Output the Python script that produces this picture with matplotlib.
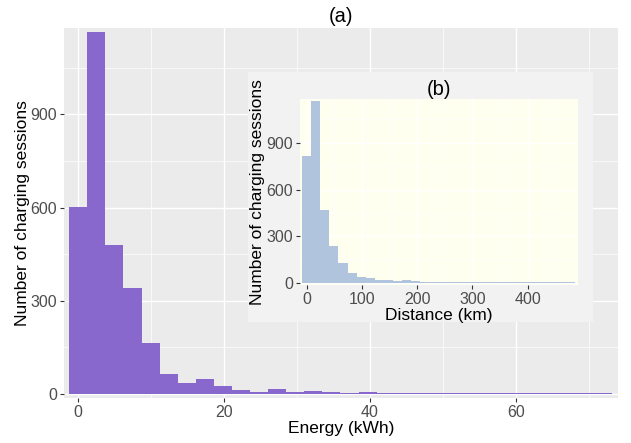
import numpy as np
import matplotlib
matplotlib.use("Agg")
import matplotlib.pyplot as plt
from matplotlib.ticker import MultipleLocator

plt.rcParams['font.family'] = ['Liberation Sans', 'DejaVu Sans']

# (a) energy histogram: 30 bins starting at 0 kWh
energy_binwidth = 2.48
energy_counts = [603, 1166, 481, 340, 164, 63, 37, 50, 27, 14,
                 7, 17, 8, 11, 8, 4, 8, 4, 4, 5,
                 3, 3, 3, 3, 3, 3, 3, 3, 3, 3]
energy_xticks = [0, 20, 40, 60]

# (b) distance histogram: 30 bins starting at 0 km
dist_binwidth = 16.45
dist_counts = [814, 1168, 467, 236, 126, 62, 37, 30, 18, 17,
               10, 17, 11, 6, 5, 5, 5, 5, 5, 5,
               5, 5, 5, 5, 5, 5, 5, 5, 5, 5]
dist_xticks = [0, 100, 200, 300, 400]

count_yticks = [0, 300, 600, 900]

W, H = 631, 443
fig = plt.figure(figsize=(W / 100, H / 100), dpi=100)


def px_rect(x0, y0, x1, y1):
    # pixel box (top-left origin) -> figure fraction rect
    return [x0 / W, 1 - y1 / H, (x1 - x0) / W, (y1 - y0) / H]


def style_axes(ax, bg, xmajor, xminor, ymajor, yminor, ticks_fs):
    ax.set_facecolor(bg)
    for s in ax.spines.values():
        s.set_visible(False)
    ax.xaxis.set_major_locator(MultipleLocator(xmajor))
    ax.xaxis.set_minor_locator(MultipleLocator(xminor))
    ax.yaxis.set_major_locator(MultipleLocator(ymajor))
    ax.yaxis.set_minor_locator(MultipleLocator(yminor))
    ax.grid(which='major', color='white', linewidth=1.0)
    ax.grid(which='minor', color='white', linewidth=0.5)
    ax.set_axisbelow(True)
    ax.tick_params(which='major', length=3, width=0.8, color='#333333',
                   labelcolor='#4D4D4D', labelsize=ticks_fs, pad=2)
    ax.tick_params(which='minor', length=0)


# main panel
ax = fig.add_axes(px_rect(64, 28, 618.3, 397.7))
style_axes(ax, '#EBEBEB', 20, 10, 300, 150, 11.5)
centers = np.arange(len(energy_counts)) * energy_binwidth
ax.bar(centers, energy_counts, width=energy_binwidth, color='#8968CD',
       linewidth=0, zorder=2)
ax.set_xlim(-1.96, 74.06)
ax.set_ylim(-11.7, 1178)
ax.set_xticks(energy_xticks)
ax.set_yticks(count_yticks)
ax.set_xlabel('Energy (kWh)', fontsize=12.5, labelpad=1)
ax.set_ylabel('Number of charging sessions', fontsize=12.5, labelpad=0)
ax.set_title('(a)', fontsize=14.5, pad=4)

# inset background
bg = fig.add_axes(px_rect(248.3, 71.7, 592.7, 321.7))
bg.set_facecolor('#F2F2F2')
bg.set_xticks([])
bg.set_yticks([])
for s in bg.spines.values():
    s.set_visible(False)

# inset panel
ins = fig.add_axes(px_rect(300, 99.3, 578.3, 285))
style_axes(ins, '#FFFFF0', 100, 50, 300, 150, 11.5)
centers_b = np.arange(len(dist_counts)) * dist_binwidth
ins.bar(centers_b, dist_counts, width=dist_binwidth, color='#B0C4DE',
        linewidth=0, zorder=2)
ins.set_xlim(-12, 491.6)
ins.set_ylim(-13, 1179)
ins.set_xticks(dist_xticks)
ins.set_yticks(count_yticks)
ins.set_xlabel('Distance (km)', fontsize=12.5, labelpad=1)
ins.set_ylabel('Number of charging sessions', fontsize=12.5, labelpad=1)
ins.set_title('(b)', fontsize=14.5, pad=2)

fig.savefig('out.png', dpi=100)
